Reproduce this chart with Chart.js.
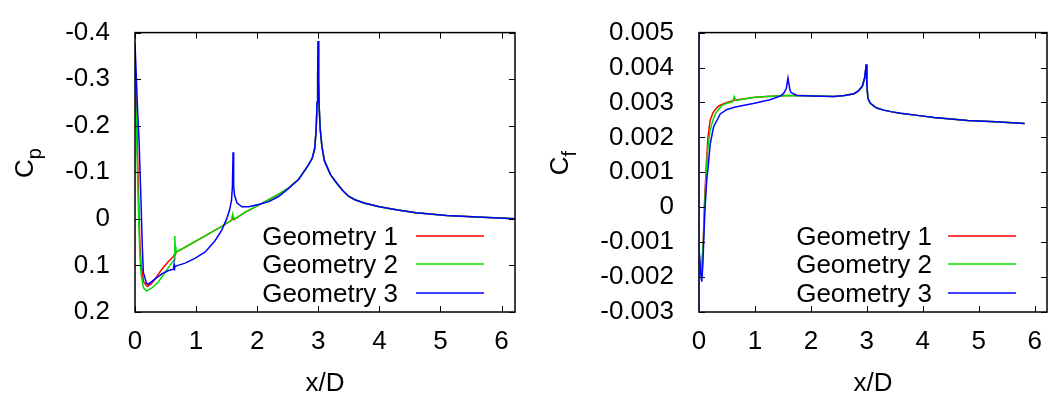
<!DOCTYPE html>
<html>
<head>
<meta charset="utf-8">
<script src="https://cdn.jsdelivr.net/npm/chart.js@4.4.0/dist/chart.umd.min.js"></script>
<style>
  html, body { margin:0; padding:0; background:#fff; }
  #wrap { position:relative; width:1048px; height:401px; }
  .box { position:absolute; top:0; width:524px; height:401px; }
  #b1 { left:0; } #b2 { left:524px; }
</style>
</head>
<body>
<div id="wrap">
  <div class="box" id="b1"><canvas id="cp"></canvas></div>
  <div class="box" id="b2"><canvas id="cf"></canvas></div>
</div>
<script>
// series names
const seriesNames = ['Geometry 1', 'Geometry 2', 'Geometry 3'];

// x ticks (both charts)
const xTickLabels = ['0','1','2','3','4','5','6'];
const cpTickLabels = ['-0.4','-0.3','-0.2','-0.1','0','0.1','0.2'];
const cfTickLabels = ['-0.003','-0.002','-0.001','0','0.001','0.002','0.003','0.004','0.005'];

// Cp, geometry 1
const cpX1 = [0,0.02,0.04,0.06,0.08,0.1,0.14,0.2,0.26,0.33,0.44,0.55,0.63,0.645,0.655,0.68,0.82,1.09,1.37,1.58,1.6,1.62,1.8,2.19,2.38,2.51,2.68,2.84,2.9,2.94,2.965,2.98,2.99,2.997,3.005,3.015,3.03,3.06,3.1,3.2,3.3,3.4,3.5,3.6,3.75,4.0,4.3,4.6,5.1,5.6,6.22];
const cpY1 = [-0.34,-0.26,-0.15,-0.04,0.05,0.1,0.135,0.145,0.14,0.129,0.108,0.091,0.081,0.076,0.078,0.071,0.061,0.041,0.02,0.003,-0.002,0.002,-0.014,-0.041,-0.055,-0.066,-0.085,-0.116,-0.13,-0.15,-0.19,-0.25,-0.31,-0.382,-0.3,-0.24,-0.195,-0.155,-0.125,-0.095,-0.077,-0.061,-0.048,-0.041,-0.034,-0.026,-0.019,-0.013,-0.007,-0.004,0.0];
// Cp, geometry 2
const cpX2 = [0,0.02,0.04,0.06,0.08,0.1,0.14,0.19,0.27,0.38,0.49,0.6,0.64,0.652,0.658,0.67,0.7,0.82,1.09,1.37,1.58,1.6,1.61,1.63,1.8,2.19,2.38,2.51,2.68,2.84,2.9,2.94,2.965,2.98,2.99,2.997,3.005,3.015,3.03,3.06,3.1,3.2,3.3,3.4,3.5,3.6,3.75,4.0,4.3,4.6,5.1,5.6,6.22];
const cpY2 = [-0.32,-0.22,-0.1,0.0,0.08,0.12,0.148,0.155,0.149,0.136,0.115,0.095,0.088,0.037,0.06,0.072,0.069,0.061,0.041,0.02,0.003,-0.01,-0.004,0.0,-0.014,-0.041,-0.055,-0.066,-0.085,-0.116,-0.13,-0.15,-0.19,-0.25,-0.31,-0.382,-0.3,-0.24,-0.195,-0.155,-0.125,-0.095,-0.077,-0.061,-0.048,-0.041,-0.034,-0.026,-0.019,-0.013,-0.007,-0.004,0.0];
// Cp, geometry 3
const cpX3 = [0,0.02,0.04,0.066,0.1,0.12,0.137,0.19,0.22,0.33,0.44,0.55,0.63,0.64,0.645,0.65,0.68,0.82,0.98,1.15,1.31,1.42,1.5,1.55,1.58,1.595,1.605,1.615,1.63,1.67,1.75,1.86,2.02,2.19,2.35,2.51,2.68,2.84,2.9,2.94,2.965,2.98,2.99,2.997,3.005,3.015,3.03,3.06,3.1,3.2,3.3,3.4,3.5,3.6,3.75,4.0,4.3,4.6,5.1,5.6,6.22];
const cpY3 = [-0.378,-0.31,-0.24,-0.17,-0.03,0.06,0.115,0.139,0.14,0.129,0.118,0.111,0.108,0.098,0.111,0.104,0.101,0.095,0.085,0.071,0.047,0.024,0.0,-0.02,-0.04,-0.07,-0.143,-0.07,-0.05,-0.034,-0.026,-0.026,-0.031,-0.037,-0.048,-0.065,-0.085,-0.116,-0.13,-0.15,-0.19,-0.25,-0.31,-0.382,-0.3,-0.24,-0.195,-0.155,-0.125,-0.095,-0.077,-0.061,-0.048,-0.041,-0.034,-0.026,-0.019,-0.013,-0.007,-0.004,0.0];

// Cf, geometry 1
const cfX1 = [0,0.02,0.045,0.08,0.1,0.13,0.16,0.2,0.25,0.29,0.35,0.42,0.5,0.65,0.8,0.97,1.2,1.57,1.8,2.41,2.6,2.77,2.85,2.92,2.96,2.99,3.0,3.02,3.06,3.12,3.18,3.3,3.45,3.6,3.9,4.2,4.8,5.3,5.82];
const cfY1 = [-0.0012,-0.0017,-0.0019,-0.0008,0.0002,0.0012,0.002,0.0025,0.0027,0.0028,0.0029,0.00295,0.003,0.00307,0.0031,0.00314,0.00317,0.0032,0.0032,0.00317,0.0032,0.00325,0.00333,0.00347,0.0037,0.00409,0.0035,0.00311,0.00298,0.0029,0.00284,0.00278,0.00273,0.00269,0.00263,0.00257,0.00248,0.00245,0.0024];
// Cf, geometry 2
const cfX2 = [0,0.02,0.045,0.08,0.1,0.13,0.16,0.2,0.25,0.3,0.4,0.5,0.6,0.63,0.66,0.8,1.0,1.3,1.6,2.0,2.41,2.6,2.77,2.85,2.92,2.96,2.99,3.0,3.02,3.06,3.12,3.18,3.3,3.45,3.6,3.9,4.2,4.8,5.3,5.82];
const cfY2 = [-0.0013,-0.0018,-0.0019,-0.0009,0.0,0.001,0.0017,0.0022,0.0025,0.0027,0.0029,0.00298,0.00302,0.00317,0.00305,0.0031,0.00315,0.00318,0.0032,0.00319,0.00317,0.0032,0.00325,0.00333,0.00347,0.0037,0.00409,0.0035,0.00311,0.00298,0.0029,0.00284,0.00278,0.00273,0.00269,0.00263,0.00257,0.00248,0.00245,0.0024];
// Cf, geometry 3
const cfX3 = [0,0.03,0.05,0.07,0.09,0.11,0.14,0.16,0.2,0.26,0.38,0.5,0.65,0.97,1.27,1.45,1.51,1.56,1.59,1.62,1.64,1.75,2.17,2.41,2.6,2.77,2.85,2.92,2.96,2.99,3.0,3.02,3.06,3.12,3.18,3.3,3.45,3.6,3.9,4.2,4.8,5.3,5.82];
const cfY3 = [-0.0012,-0.0019,-0.00213,-0.0016,-0.0007,0.00004,0.0008,0.0011,0.0018,0.0023,0.00267,0.0028,0.00287,0.00297,0.00308,0.00318,0.00325,0.0034,0.0037,0.0034,0.00329,0.0032,0.00318,0.00317,0.0032,0.00325,0.00333,0.00347,0.0037,0.00409,0.0035,0.00311,0.00298,0.0029,0.00284,0.00278,0.00273,0.00269,0.00263,0.00257,0.00248,0.00245,0.0024];

const colors = ['#ff0000', '#00e000', '#0000ff'];
const FONT = 'Liberation Sans, Arial, sans-serif';
Chart.defaults.color = '#000';
Chart.defaults.font.family = FONT;
Chart.defaults.font.size = 26;

const pts = (xs, ys) => xs.map((x, i) => ({ x, y: ys[i] }));
const labelFor = list => v => { const t = list.find(s => Math.abs(+s - v) < 1e-9); return t === undefined ? '' : t; };

// frame, inside ticks, y title with subscript, legend drawn at the same spots as the gnuplot output
const decor = {
  id: 'decor',
  afterDatasetsDraw(chart, args, o) {
    const { ctx, chartArea: a, scales } = chart;
    ctx.save();
    ctx.strokeStyle = '#000';
    ctx.lineWidth = 1;
    scales.x.ticks.forEach(t => {
      const px = Math.round(scales.x.getPixelForValue(t.value)) + 0.5;
      ctx.beginPath();
      ctx.moveTo(px, a.bottom); ctx.lineTo(px, a.bottom - 6);
      ctx.moveTo(px, a.top); ctx.lineTo(px, a.top + 6);
      ctx.stroke();
    });
    scales.y.ticks.forEach(t => {
      const py = Math.round(scales.y.getPixelForValue(t.value)) + 0.5;
      ctx.beginPath();
      ctx.moveTo(a.left, py); ctx.lineTo(a.left + 6, py);
      ctx.moveTo(a.right, py); ctx.lineTo(a.right - 6, py);
      ctx.stroke();
    });
    ctx.lineWidth = 1.5;
    ctx.strokeRect(a.left, a.top, a.right - a.left, a.bottom - a.top);
    if (o.leftBorder) {
      ctx.strokeStyle = o.leftBorder;
      ctx.beginPath(); ctx.moveTo(a.left, a.top); ctx.lineTo(a.left, a.bottom); ctx.stroke();
    }

    // y title
    ctx.fillStyle = '#000';
    ctx.translate(o.titleX, o.titleY);
    ctx.rotate(-Math.PI / 2);
    ctx.font = '26px ' + FONT;
    const wC = ctx.measureText('C').width;
    ctx.font = '20px ' + FONT;
    const wS = ctx.measureText(o.sub).width;
    const x0 = -(wC + wS) / 2;
    ctx.font = '26px ' + FONT;
    ctx.textBaseline = 'alphabetic';
    ctx.fillText('C', x0, 0);
    ctx.font = '20px ' + FONT;
    ctx.fillText(o.sub, x0 + wC, 8);
    ctx.restore();

    // legend
    ctx.save();
    ctx.font = '26px ' + FONT;
    ctx.textAlign = 'right';
    ctx.textBaseline = 'alphabetic';
    chart.data.datasets.forEach((d, i) => {
      const y = o.legY[i];
      ctx.fillStyle = '#000';
      ctx.fillText(d.label, o.legTextRight, y + 8.5);
      ctx.strokeStyle = d.borderColor;
      ctx.lineWidth = 1.5;
      ctx.beginPath();
      ctx.moveTo(o.legLine[0], y); ctx.lineTo(o.legLine[1], y);
      ctx.stroke();
    });
    ctx.restore();
  }
};

function makeChart(id, series, y, frame) {
  const datasets = series.map((s, i) => ({
    label: seriesNames[i],
    data: s,
    borderColor: colors[i],
    borderWidth: 1.5,
    pointRadius: 0,
    fill: false,
    tension: 0,
    order: 3 - i
  }));
  return new Chart(document.getElementById(id), {
    type: 'line',
    data: { datasets },
    plugins: [decor],
    options: {
      responsive: true, maintainAspectRatio: false, animation: false,
      layout: { padding: { top: 17, right: frame.padRight, bottom: 0, left: 0 } },
      plugins: { legend: { display: false }, tooltip: { enabled: false }, decor: frame },
      scales: {
        x: {
          type: 'linear', min: 0, max: 6.22,
          grid: { display: false }, border: { display: false },
          ticks: { stepSize: 1, includeBounds: false, padding: 6, maxRotation: 0,
                   callback: labelFor(xTickLabels) },
          title: { display: true, text: 'x/D', padding: { top: 0, bottom: 2 } },
          afterFit: s => { s.height = 89; }
        },
        y: Object.assign({
          type: 'linear',
          grid: { display: false }, border: { display: false },
          afterFit: s => { s.width = frame.yWidth; }
        }, y)
      }
    }
  });
}

makeChart('cp', [pts(cpX1, cpY1), pts(cpX2, cpY2), pts(cpX3, cpY3)],
  { min: -0.4, max: 0.2, reverse: true,
    ticks: { stepSize: 0.1, padding: 17, callback: labelFor(cpTickLabels) } },
  { yWidth: 135, padRight: 9, titleX: 33, titleY: 163, sub: 'p',
    legTextRight: 398, legLine: [416, 484], legY: [236, 264, 293] });

makeChart('cf', [pts(cfX1, cfY1), pts(cfX2, cfY2), pts(cfX3, cfY3)],
  { min: -0.003, max: 0.005,
    ticks: { stepSize: 0.001, padding: 17, callback: labelFor(cfTickLabels) } },
  { yWidth: 175, padRight: 1, titleX: 44, titleY: 163, sub: 'f', leftBorder: '#1c2550',
    legTextRight: 408, legLine: [424, 492], legY: [236, 264, 293] });
</script>
</body>
</html>
